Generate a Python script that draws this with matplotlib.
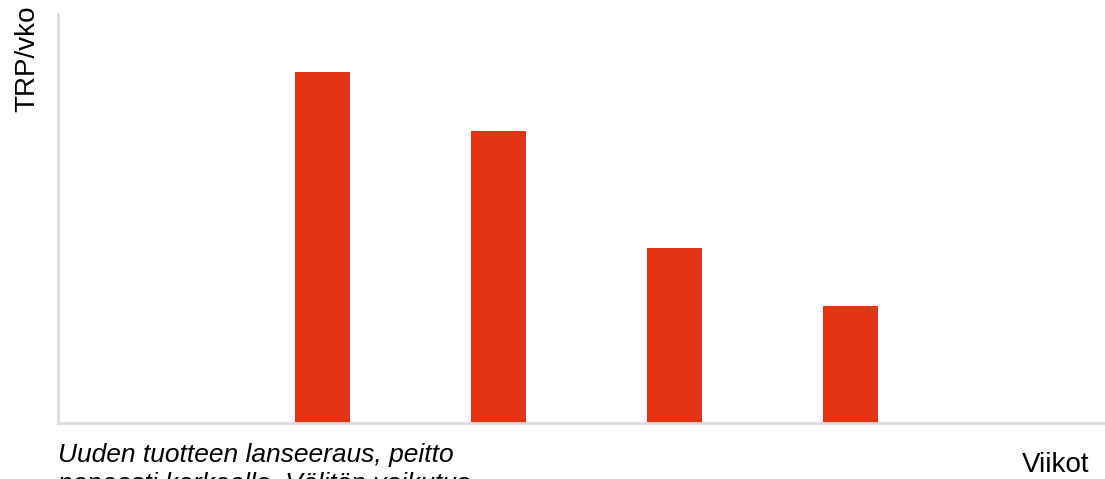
import matplotlib
matplotlib.use("Agg")
import matplotlib.pyplot as plt

# Weekly TRP levels for a new product launch (arbitrary units)
weeks = [1, 2, 3, 4, 5, 6]
trp_per_week = [0.0, 3.0, 2.5, 1.5, 1.0, 0.0]

BAR_COLOR = "#E53414"
AXIS_COLOR = "#D9D9D9"

plt.rcParams["font.family"] = ["Liberation Sans", "DejaVu Sans"]

fig = plt.figure(figsize=(11.05, 4.79), dpi=100)
ax = fig.add_axes([58 / 1105, 56 / 479, 1056 / 1105, 409 / 479])

ax.bar(weeks, trp_per_week, width=0.3125, color=BAR_COLOR, zorder=1)
ax.set_xlim(0.5, 6.5)
ax.set_ylim(0, 3.5)

for side in ("top", "right"):
    ax.spines[side].set_visible(False)
for side in ("left", "bottom"):
    ax.spines[side].set_color(AXIS_COLOR)
    ax.spines[side].set_linewidth(2.0)
    ax.spines[side].set_zorder(2)
ax.set_xticks([])
ax.set_yticks([])

fig.text(27.5 / 1105, 1 - 5 / 479, "TRP/vko", rotation=90, fontsize=20,
         ha="center", va="top")
fig.text(1089 / 1105, (479 - 471.5) / 479, "Viikot", fontsize=20,
         ha="right", va="baseline")
# multi-line text with va="baseline" anchors on the last line
fig.text(58 / 1105, (479 - 490.5) / 479,
         "Uuden tuotteen lanseeraus, peitto\nnopeasti korkealle. Välitön vaikutus",
         fontsize=19, style="italic", ha="left", va="baseline", linespacing=1.25)

fig.savefig("out.png", dpi=100)
